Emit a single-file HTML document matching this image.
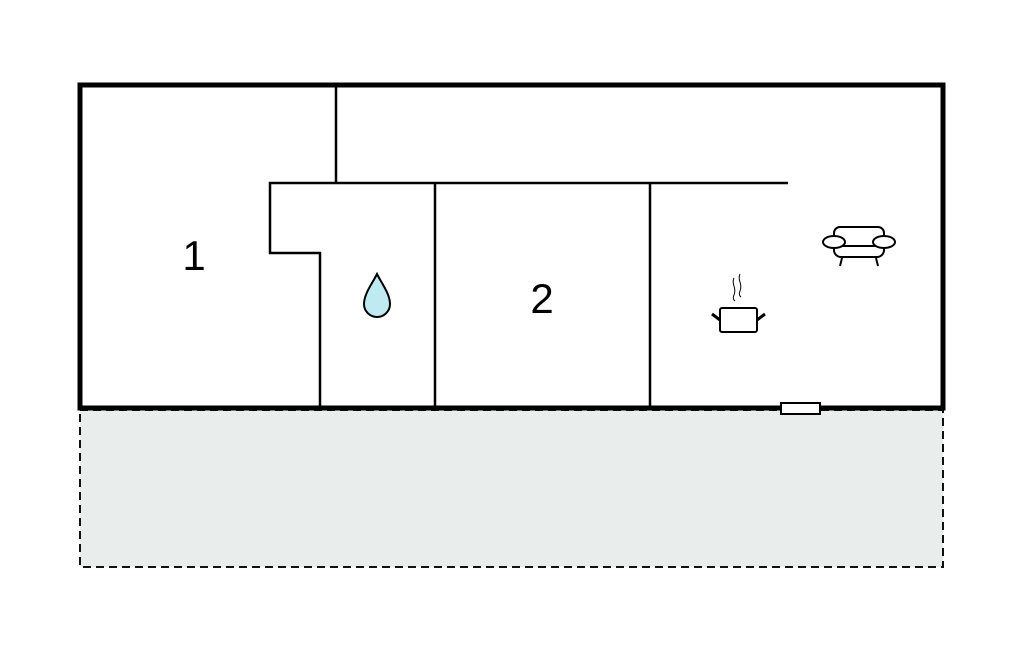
<!DOCTYPE html>
<html><head><style>body{margin:0;background:#fff}</style></head><body>
<svg width="1024" height="652" viewBox="0 0 1024 652" xmlns="http://www.w3.org/2000/svg">
<rect x="80" y="410" width="863" height="157" fill="#e9eeed" stroke="#111" stroke-width="2" stroke-dasharray="8,5"/>
<rect x="80" y="85" width="863" height="323" fill="#fff" stroke="#000" stroke-width="5"/>
<g stroke="#000" stroke-width="2.5" fill="none">
<line x1="336" y1="85" x2="336" y2="183"/>
<polyline points="788,183 270,183 270,253 320,253 320,408"/>
<line x1="435" y1="183" x2="435" y2="408"/>
<line x1="650" y1="183" x2="650" y2="408"/>
</g>
<rect x="781" y="403" width="39" height="11" fill="#fff" stroke="#000" stroke-width="2"/>
<text x="194" y="270" font-family="Liberation Sans, sans-serif" font-size="42" text-anchor="middle">1</text>
<text x="542" y="313" font-family="Liberation Sans, sans-serif" font-size="42" text-anchor="middle">2</text>
<path d="M377,274 C372,284 364,294 364,304 A13,13 0 0 0 390,304 C390,294 382,284 377,274 Z" fill="#bfeaf2" stroke="#000" stroke-width="2"/>
<g stroke="#000" stroke-width="2" fill="none">
<rect x="720" y="308" width="37" height="24" rx="2"/>
<line x1="712" y1="314" x2="720" y2="320" stroke-width="3"/>
<line x1="765" y1="314" x2="757" y2="320" stroke-width="3"/>
<path d="M734,278 c-3,6 3,10 0,17 c-2,4 1,6 1,6" stroke-width="1"/>
<path d="M740,274 c-3,6 3,10 0,17 c-2,4 1,6 1,6" stroke-width="1"/>
<path d="M834,237 v-4 a6,6 0 0 1 6,-6 h38 a6,6 0 0 1 6,6 v4"/>
<path d="M834,246 v4 a7,7 0 0 0 7,7 h36 a7,7 0 0 0 7,-7 v-4"/>
<line x1="834" y1="246" x2="884" y2="246"/>
<ellipse cx="834" cy="242" rx="11" ry="6" fill="#fff"/>
<ellipse cx="884" cy="242" rx="11" ry="6" fill="#fff"/>
<line x1="842" y1="258" x2="840" y2="266"/>
<line x1="876" y1="258" x2="878" y2="266"/>
</g>
</svg>
</body></html>
